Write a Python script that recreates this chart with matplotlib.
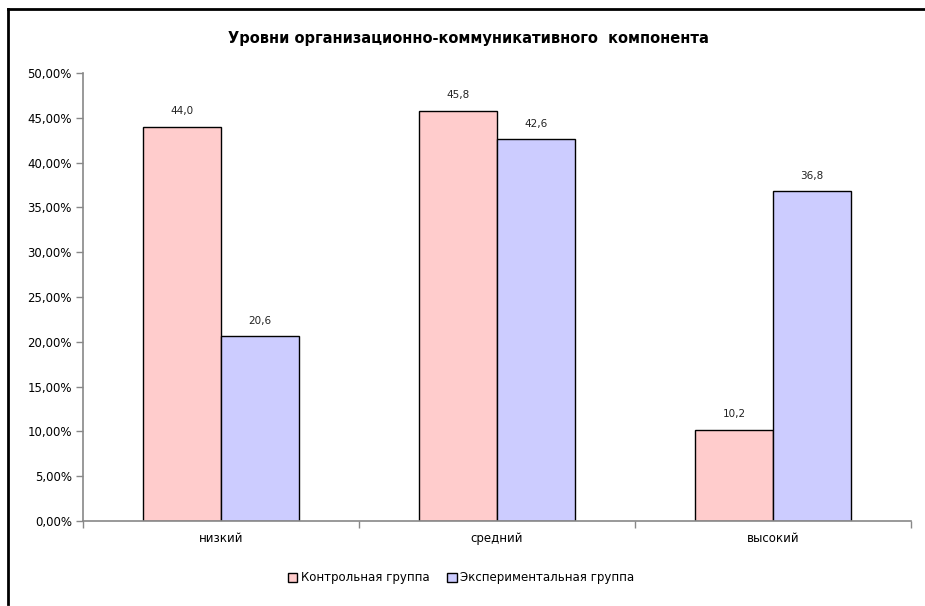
import matplotlib.pyplot as plt
from matplotlib.lines import Line2D
from matplotlib.patches import Patch
import numpy as np

categories = ["низкий", "средний", "высокий"]
control = [44.0, 45.8, 10.2]
experimental = [20.6, 42.6, 36.8]
series_names = ["Контрольная группа", "Экспериментальная группа"]
yticks = [0, 5, 10, 15, 20, 25, 30, 35, 40, 45, 50]

plt.rcParams['font.family'] = ['DejaVu Sans']

fig = plt.figure(figsize=(9.25, 6.06), dpi=100)
ax = fig.add_axes([83 / 925, 1 - 521 / 606, 828 / 925, 448 / 606])

x = np.arange(len(categories))
w = 0.283
b1 = ax.bar(x - w / 2, control, w, color="#FFCCCC", edgecolor="black", linewidth=1.0)
b2 = ax.bar(x + w / 2, experimental, w, color="#CCCCFF", edgecolor="black", linewidth=1.0)

for bars, vals in ((b1, control), (b2, experimental)):
    for rect, v in zip(bars, vals):
        ax.text(rect.get_x() + rect.get_width() / 2, v + 1.2, f"{v:.1f}".replace(".", ","),
                ha="center", va="bottom", fontsize=7.5, color="#222222")

ax.set_xlim(-0.5, 2.5)
ax.set_ylim(0, 50)
ax.set_yticks(yticks)
ax.set_yticklabels([f"{t:.2f}%".replace(".", ",") for t in yticks], fontsize=8.5)
ax.set_xticks(x)
ax.set_xticklabels(categories, fontsize=8.5)
ax.tick_params(axis="x", length=0, pad=8)
ax.set_xticks([-0.5, 0.5, 1.5, 2.5], minor=True)
ax.tick_params(axis="x", which="minor", length=5, color="#888888", width=1)
ax.tick_params(axis="y", length=5, color="#888888", width=1, pad=3)

for s in ("top", "right"):
    ax.spines[s].set_visible(False)
for s in ("left", "bottom"):
    ax.spines[s].set_color("#888888")
    ax.spines[s].set_linewidth(1.2)

fig.text(468 / 925, 1 - 38 / 606, "Уровни организационно-коммуникативного  компонента",
         ha="center", va="center", fontsize=10.5, fontweight="bold")

handles = [Patch(facecolor="#FFCCCC", edgecolor="black"),
           Patch(facecolor="#CCCCFF", edgecolor="black")]
fig.legend(handles, series_names, loc="center", bbox_to_anchor=(461 / 925, 1 - 578 / 606),
           ncol=2, frameon=False, fontsize=8.5, handlelength=0.8, handleheight=0.8,
           handletextpad=0.3, columnspacing=1.5)

# outer chart border (left and top edges visible)
fig.add_artist(Line2D([7.5 / 925, 7.5 / 925], [1 - 8.5 / 606, 0.003], color="black", lw=2))
fig.add_artist(Line2D([7.5 / 925, 1.0], [1 - 8.5 / 606, 1 - 8.5 / 606], color="black", lw=2))

fig.savefig("out.png", dpi=100)
